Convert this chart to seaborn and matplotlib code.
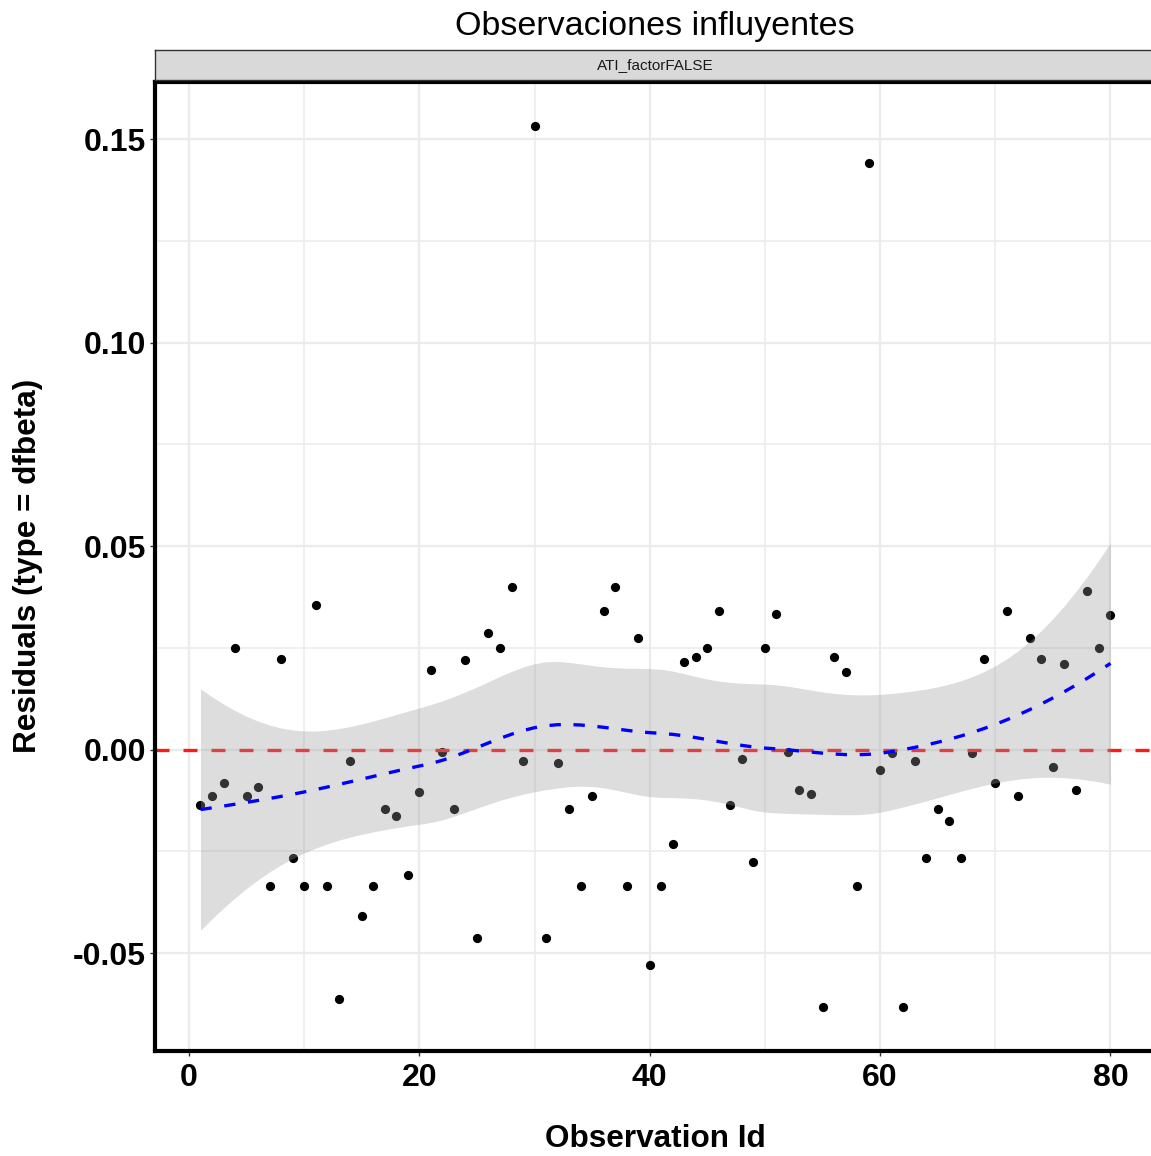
import numpy as np
import pandas as pd
import matplotlib
matplotlib.use("Agg")
import matplotlib.pyplot as plt
import seaborn as sns
from matplotlib.ticker import MultipleLocator

# ---------------- data ----------------
obs_id = list(range(1, 81))
dfbeta = [
    -0.0137, -0.0114, -0.0083, 0.0251, -0.0114, -0.0091, -0.0336, 0.0223, -0.0266, -0.0336,
    0.0355, -0.0336, -0.0612, -0.0029, -0.0409, -0.0336, -0.0145, -0.0164, -0.0309, -0.0103,
    0.0196, -0.0005, -0.0145, 0.0221, -0.0463, 0.0287, 0.0250, 0.0400, -0.0029, 0.1532,
    -0.0463, -0.0032, -0.0145, -0.0336, -0.0114, 0.0340, 0.0400, -0.0336, 0.0274, -0.0530,
    -0.0336, -0.0231, 0.0216, 0.0228, 0.0250, 0.0340, -0.0137, -0.0022, -0.0277, 0.0250,
    0.0333, -0.0005, -0.0098, -0.0110, -0.0632, 0.0228, 0.0191, -0.0336, 0.1441, -0.0051,
    -0.0007, -0.0632, -0.0029, -0.0267, -0.0145, -0.0176, -0.0267, -0.0007, 0.0223, -0.0083,
    0.0340, -0.0115, 0.0274, 0.0223, -0.0042, 0.0211, -0.0098, 0.0390, 0.0250, 0.0331,
]
title = "Observaciones influyentes"
strip_label = "ATI_factorFALSE"
x_label = "Observation Id"
y_label = "Residuals (type = dfbeta)"
x_ticks = [0, 20, 40, 60, 80]
x_tick_labels = ["0", "20", "40", "60", "80"]
y_ticks = [-0.05, 0.0, 0.05, 0.10, 0.15]
y_tick_labels = ["-0.05", "0.00", "0.05", "0.10", "0.15"]
ref_value = 0.0

df = pd.DataFrame({"id": obs_id, "dfbeta": dfbeta})


# ---------------- loess (degree 2, span 0.75, kd-tree interpolation) ----------------
def loess_smooth(x, y, xnew, span=0.75, cell=0.2):
    x = np.asarray(x, float)
    y = np.asarray(y, float)
    n = len(x)
    q = int(np.floor(n * span))
    fc = int(np.floor(n * span * cell + 1e-9))

    def local_rows(x0):
        d = np.abs(x - x0)
        h = np.sort(d)[q - 1]
        u = d / h
        w = np.where(u < 1, (1 - u ** 3) ** 3, 0.0)
        X = np.column_stack([np.ones(n), x - x0, (x - x0) ** 2])
        WX = X.T * w
        B = np.linalg.solve(WX @ X, WX)
        return B[0], B[1]  # value row, slope row

    # kd-tree vertices (1-D)
    xs_sorted = np.sort(x)
    mu = 0.005 * (xs_sorted[-1] - xs_sorted[0])
    verts = [xs_sorted[0] - mu, xs_sorted[-1] + mu]

    def split(pts):
        if len(pts) <= fc:
            return
        m = (len(pts) + 1) // 2
        v = 0.5 * (pts[m - 1] + pts[m])
        verts.append(v)
        split(pts[pts <= v])
        split(pts[pts > v])

    split(xs_sorted)
    verts = np.sort(np.array(verts))
    VR = [local_rows(v) for v in verts]

    def interp_row(x0):
        k = np.searchsorted(verts, x0) - 1
        k = min(max(k, 0), len(verts) - 2)
        v0, v1 = verts[k], verts[k + 1]
        hh = v1 - v0
        t = (x0 - v0) / hh
        h00 = 2 * t ** 3 - 3 * t ** 2 + 1
        h10 = t ** 3 - 2 * t ** 2 + t
        h01 = -2 * t ** 3 + 3 * t ** 2
        h11 = t ** 3 - t ** 2
        f0, s0 = VR[k]
        f1, s1 = VR[k + 1]
        return h00 * f0 + h10 * hh * s0 + h01 * f1 + h11 * hh * s1

    L = np.array([interp_row(v) for v in x])
    Ln = np.array([interp_row(v) for v in xnew])
    R = np.eye(n) - L
    M = R.T @ R
    d1 = np.trace(M)
    d2 = np.trace(M @ M)
    res = y - L @ y
    s = np.sqrt(np.sum(res ** 2) / d1)
    fit = Ln @ y
    se = s * np.sqrt(np.sum(Ln ** 2, axis=1))
    nu = d1 ** 2 / d2
    z = 1.959963985
    t = z + (z ** 3 + z) / (4 * nu) + (5 * z ** 5 + 16 * z ** 3 + 3 * z) / (96 * nu ** 2)
    return fit, fit - t * se, fit + t * se


xs = np.linspace(min(obs_id), max(obs_id), 80)
fit, lo, hi = loess_smooth(df["id"], df["dfbeta"], xs)
smooth = pd.DataFrame({"id": xs, "fit": fit, "lo": lo, "hi": hi})

# ---------------- figure ----------------
sns.set_style("white")
plt.rcParams["font.family"] = ["Liberation Sans", "DejaVu Sans"]
plt.rcParams["text.color"] = "black"
plt.rcParams["axes.labelcolor"] = "black"

W, H = 1151, 1156
fig = plt.figure(figsize=(W / 100, H / 100), dpi=100)

ax_l, ax_r, ax_t, ax_b = 155, 1156, 82, 1051
ax = fig.add_axes([ax_l / W, 1 - ax_b / H, (ax_r - ax_l) / W, (ax_b - ax_t) / H])

sns.scatterplot(data=df, x="id", y="dfbeta", ax=ax, color="black", s=44,
                linewidth=0, zorder=3, legend=False)
ax.axhline(ref_value, color="#ff1a1a", lw=2.4, linestyle=(0, (4.2, 4.2)), zorder=4)
ax.fill_between(smooth["id"], smooth["lo"], smooth["hi"], color="#999999",
                alpha=0.33, linewidth=0, zorder=5)
sns.lineplot(data=smooth, x="id", y="fit", ax=ax, color="#0000ff", lw=2.4,
             linestyle=(0, (3.4, 3.8)), zorder=6, legend=False)

# limits like ggplot's 5% expansion
xr = max(obs_id) - min(obs_id)
ax.set_xlim(min(obs_id) - 0.05 * xr, max(obs_id) + 0.05 * xr)
ymin = min(min(dfbeta), smooth["lo"].min())
ymax = max(max(dfbeta), smooth["hi"].max())
yr = ymax - ymin
ax.set_ylim(ymin - 0.05 * yr, ymax + 0.05 * yr)

ax.set_xticks(x_ticks)
ax.set_xticklabels(x_tick_labels)
ax.set_yticks(y_ticks)
ax.set_yticklabels(y_tick_labels)
ax.xaxis.set_minor_locator(MultipleLocator(10))
ax.yaxis.set_minor_locator(MultipleLocator(0.025))
ax.grid(which="major", color="#ebebeb", lw=1.6, zorder=0)
ax.grid(which="minor", color="#ebebeb", lw=1.1, zorder=0)
ax.set_axisbelow(True)

for lab in ax.get_xticklabels() + ax.get_yticklabels():
    lab.set_fontweight("bold")
ax.tick_params(axis="both", which="major", labelsize=23, length=3.5, width=1.0,
               color="#333333", direction="out", pad=3, labelcolor="black",
               bottom=True, left=True)
ax.tick_params(axis="x", which="major", pad=5)
ax.tick_params(axis="both", which="minor", length=0)
ax.set_xlabel("")
ax.set_ylabel("")

for side in ["left", "bottom", "top"]:
    ax.spines[side].set_visible(True)
    ax.spines[side].set_color("black")
    ax.spines[side].set_linewidth(3.0)
    ax.spines[side].set_zorder(10)
ax.spines["right"].set_visible(False)

# facet strip
st_t, st_b = 50, 80
sax = fig.add_axes([ax_l / W, 1 - st_b / H, (ax_r - ax_l) / W, (st_b - st_t) / H])
sax.set_facecolor("#d9d9d9")
sax.set_xticks([])
sax.set_yticks([])
for sp in sax.spines.values():
    sp.set_color("#333333")
    sp.set_linewidth(1.0)
sax.text((655 - ax_l) / (ax_r - ax_l), 0.5, strip_label, transform=sax.transAxes,
         ha="center", va="center", fontsize=11, color="#1a1a1a")

# titles
fig.text(655 / W, 1 - 35.5 / H, title, ha="center", va="baseline", fontsize=24.5)
fig.text(655 / W, 1 - 1147 / H, x_label, ha="center", va="baseline",
         fontsize=22.7, fontweight="bold")
fig.text(28 / W, 1 - 566 / H, y_label, ha="center", va="center", rotation=90,
         fontsize=22.7, fontweight="bold")

fig.savefig("out.png", dpi=100)
